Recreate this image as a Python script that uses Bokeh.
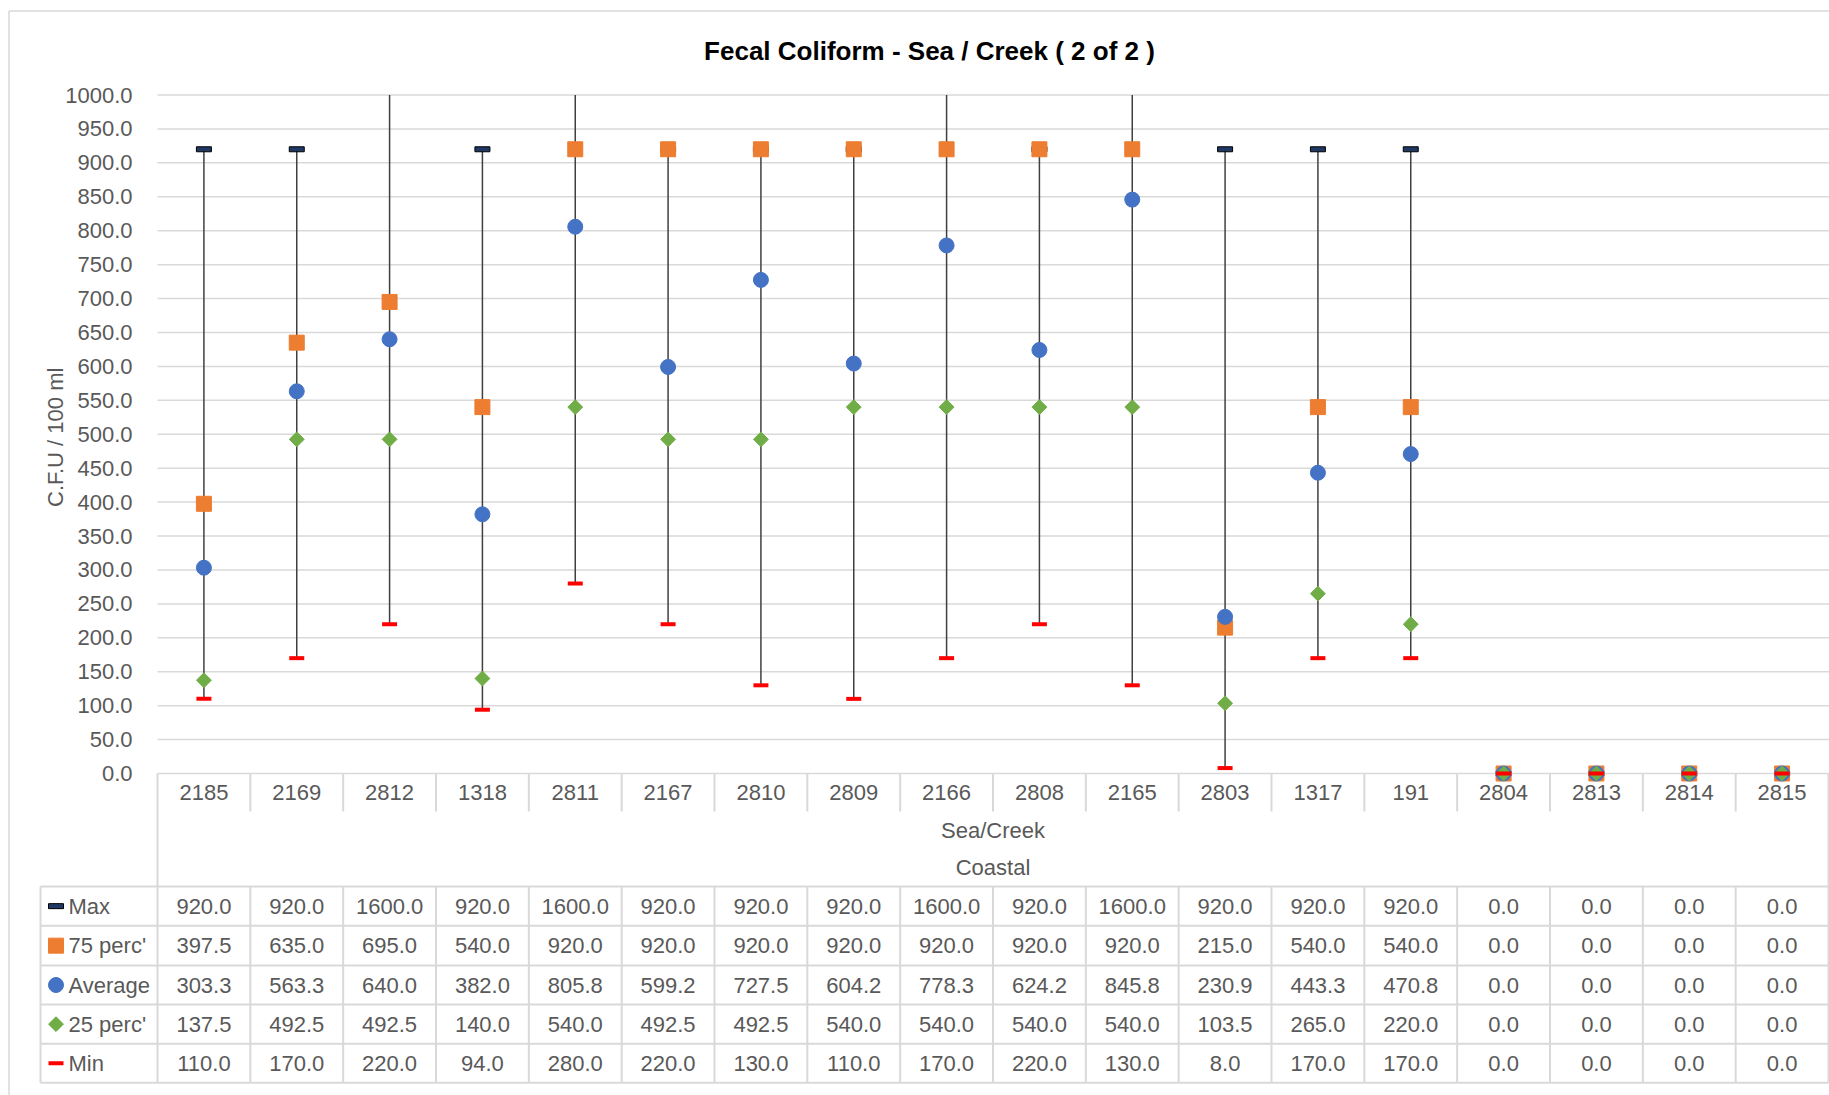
import math
from bokeh.plotting import figure
from bokeh.models import Range1d, FixedTicker, ColumnDataSource, NumeralTickFormatter
from bokeh.embed import file_html
from bokeh.resources import INLINE
from bokeh.core.properties import value

# ---------------- data ----------------
title_text = "Fecal Coliform - Sea / Creek ( 2 of 2 )"
y_label = "C.F.U  / 100 ml"
categories = ["2185", "2169", "2812", "1318", "2811", "2167", "2810", "2809", "2166",
              "2808", "2165", "2803", "1317", "191", "2804", "2813", "2814", "2815"]
group_label = "Sea/Creek"
outer_label = "Coastal"
series_names = ["Max", "75 perc'", "Average", "25 perc'", "Min"]
max_vals = [920.0, 920.0, 1600.0, 920.0, 1600.0, 920.0, 920.0, 920.0, 1600.0,
            920.0, 1600.0, 920.0, 920.0, 920.0, 0.0, 0.0, 0.0, 0.0]
p75_vals = [397.5, 635.0, 695.0, 540.0, 920.0, 920.0, 920.0, 920.0, 920.0,
            920.0, 920.0, 215.0, 540.0, 540.0, 0.0, 0.0, 0.0, 0.0]
avg_vals = [303.3, 563.3, 640.0, 382.0, 805.8, 599.2, 727.5, 604.2, 778.3,
            624.2, 845.8, 230.9, 443.3, 470.8, 0.0, 0.0, 0.0, 0.0]
p25_vals = [137.5, 492.5, 492.5, 140.0, 540.0, 492.5, 492.5, 540.0, 540.0,
            540.0, 540.0, 103.5, 265.0, 220.0, 0.0, 0.0, 0.0, 0.0]
min_vals = [110.0, 170.0, 220.0, 94.0, 280.0, 220.0, 130.0, 110.0, 170.0,
            220.0, 130.0, 8.0, 170.0, 170.0, 0.0, 0.0, 0.0, 0.0]
y_ticks = list(range(0, 1001, 50))
y_min, y_max = 0, 1000

# ---------------- layout / style ----------------
FONT = "Liberation Sans"
FS = "22px"
TXT = "#595959"
GRID = "#D9D9D9"
W, H = 1829, 1095
PL, PR = 157.0, 1828.0        # pixel columns of the category area
PY0, PY1000 = 773.0, 94.5     # pixel rows of y=0 and y=1000
n = len(categories)
UNIT = (PR - PL) / n
K = (PY0 - PY1000) / (y_max - y_min)
xs = [i + 0.5 for i in range(n)]

def xpx(px):
    return (px - PL) / UNIT

p = figure(width=W, height=H,
           x_range=Range1d(xpx(0), xpx(W)),
           y_range=Range1d((PY0 - H) / K, PY0 / K),
           output_backend="svg", toolbar_location=None, x_axis_location=None,
           title=None, min_border=0, min_border_left=0, min_border_right=0,
           min_border_top=0, min_border_bottom=0, outline_line_color=None)
p.extra_y_ranges = {"px": Range1d(H, 0)}
p.background_fill_color = "white"
p.border_fill_color = "white"
p.xgrid.visible = False
p.ygrid.visible = False

ya = p.yaxis[0]
ya.fixed_location = 0
ya.ticker = FixedTicker(ticks=y_ticks)
ya.formatter = NumeralTickFormatter(format="0.0")
ya.major_label_text_font = FONT
ya.major_label_text_font_size = FS
ya.major_label_text_color = TXT
ya.major_tick_line_color = None
ya.minor_tick_line_color = None
ya.major_tick_out = 0
ya.major_tick_in = 0
ya.axis_line_color = None
ya.major_label_standoff = 25

tfont = value(FONT)

# outer chart border (left / top)
p.segment(x0=[xpx(8.5), xpx(8.5)], y0=[10.5, 10.5], x1=[xpx(8.5), xpx(W)], y1=[H, 10.5],
          y_range_name="px", line_color=GRID, line_width=1.5)

# title and y label
p.text(x=[xpx(929)], y=[50], text=[title_text], y_range_name="px", text_font=tfont,
       text_font_size="26px", text_font_style="bold", text_color="#000000",
       text_align="center", text_baseline="middle")
p.text(x=[xpx(55)], y=[(y_min + y_max) / 2], text=[y_label], angle=math.pi / 2,
       text_font=tfont, text_font_size=FS, text_color=TXT,
       text_align="center", text_baseline="middle")

# horizontal gridlines
p.segment(x0=[0] * len(y_ticks), y0=y_ticks, x1=[xpx(W)] * len(y_ticks), y1=y_ticks,
          line_color=GRID, line_width=1.5)

# ---------------- series ----------------
src = ColumnDataSource(dict(x=xs, mx=max_vals, mx_vis=[min(v, y_max) for v in max_vals],
                            p75=p75_vals, avg=avg_vals, p25=p25_vals, mn=min_vals))
p.segment(x0="x", y0="mn", x1="x", y1="mx_vis", source=src, line_color="#404040", line_width=1.5)
p.rect(x="x", y="mx", width=15, height=5, width_units="screen", height_units="screen",
       source=src, fill_color="#203864", line_color="#000000", line_width=1)
p.scatter(x="x", y="p75", source=src, marker="square", size=15,
          fill_color="#ED7D31", line_color="#ED7D31")
p.scatter(x="x", y="avg", source=src, marker="circle", size=15,
          fill_color="#4472C4", line_color="#4472C4")
p.scatter(x="x", y="p25", source=src, marker="square", angle=math.pi / 4, size=10.5,
          fill_color="#70AD47", line_color="#70AD47")
p.rect(x="x", y="mn", width=15, height=4, width_units="screen", height_units="screen",
       source=src, fill_color="#FF0000", line_color=None)

# ---------------- data table ----------------
xL = xpx(40)
row_lines = [886, 925.3, 965, 1004, 1043.3, 1082.3]
row_centers = [(row_lines[i] + row_lines[i + 1]) / 2 for i in range(len(series_names))]
top_y = PY0
cat_row_bottom = 811

p.segment(x0=[xL] * len(row_lines), y0=row_lines, x1=[n] * len(row_lines), y1=row_lines,
          y_range_name="px", line_color=GRID, line_width=2)
vx0, vy0, vx1, vy1 = [xL], [row_lines[0]], [xL], [row_lines[-1]]
for b in [0, n]:
    vx0.append(b); vy0.append(top_y); vx1.append(b); vy1.append(row_lines[-1])
for b in range(1, n):
    vx0 += [b, b]; vy0 += [top_y, row_lines[0]]; vx1 += [b, b]; vy1 += [cat_row_bottom, row_lines[-1]]
p.segment(x0=vx0, y0=vy0, x1=vx1, y1=vy1, y_range_name="px", line_color=GRID, line_width=2)

p.text(x=xs, y=[792] * n, text=categories, y_range_name="px", text_font=tfont,
       text_font_size=FS, text_color=TXT, text_align="center", text_baseline="middle")
p.text(x=[n / 2, n / 2], y=[830, 867], text=[group_label, outer_label], y_range_name="px",
       text_font=tfont, text_font_size=FS, text_color=TXT, text_align="center",
       text_baseline="middle")

all_series = [max_vals, p75_vals, avg_vals, p25_vals, min_vals]
for r, vals in enumerate(all_series):
    p.text(x=xs, y=[row_centers[r]] * n, text=[f"{v:.1f}" for v in vals], y_range_name="px",
           text_font=tfont, text_font_size=FS, text_color=TXT, text_align="center",
           text_baseline="middle")

xm = xpx(55.5)
xt = xpx(68)
p.text(x=[xt] * len(series_names), y=row_centers, text=series_names, y_range_name="px",
       text_font=tfont, text_font_size=FS, text_color=TXT, text_align="left",
       text_baseline="middle")
p.rect(x=[xm], y=[row_centers[0]], width=15, height=5, width_units="screen",
       height_units="screen", y_range_name="px", fill_color="#203864",
       line_color="#000000", line_width=1)
p.scatter(x=[xm], y=[row_centers[1]], y_range_name="px", marker="square", size=15,
          fill_color="#ED7D31", line_color="#ED7D31")
p.scatter(x=[xm], y=[row_centers[2]], y_range_name="px", marker="circle", size=15,
          fill_color="#4472C4", line_color="#4472C4")
p.scatter(x=[xm], y=[row_centers[3]], y_range_name="px", marker="square",
          angle=math.pi / 4, size=10.5, fill_color="#70AD47", line_color="#70AD47")
p.rect(x=[xm], y=[row_centers[4]], width=15, height=4, width_units="screen",
       height_units="screen", y_range_name="px", fill_color="#FF0000", line_color=None)

open("out.html", "w").write(file_html(p, INLINE))
